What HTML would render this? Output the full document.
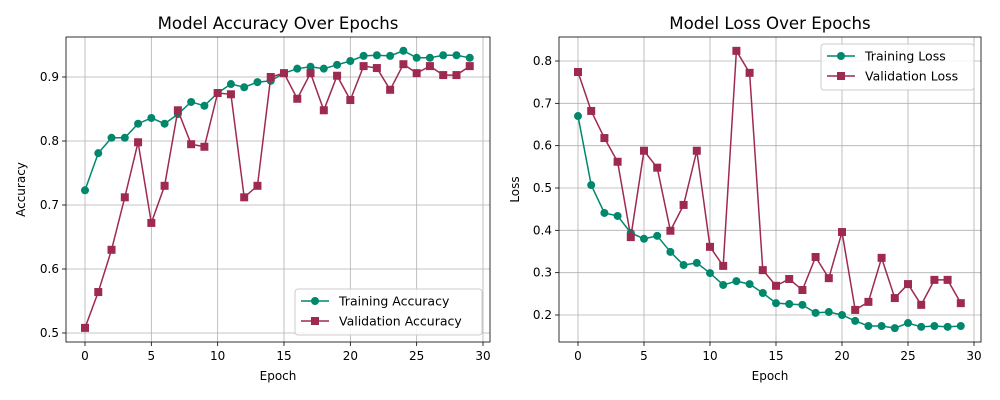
<!DOCTYPE html>
<html><head><meta charset="utf-8"><style>
body{margin:0;background:#fff;}
svg{display:block;font-family:"DejaVu Sans","Liberation Sans",sans-serif;}
</style></head><body>
<svg id="c" width="1000" height="400"></svg>
<script>
const epochs=[...Array(30).keys()];
const trainAcc=[0.723,0.781,0.805,0.805,0.827,0.836,0.827,0.842,0.861,0.855,0.875,0.889,0.884,0.892,0.894,0.906,0.913,0.916,0.913,0.919,0.925,0.933,0.934,0.933,0.941,0.930,0.930,0.934,0.934,0.930];
const valAcc=[0.508,0.564,0.630,0.712,0.798,0.672,0.730,0.848,0.795,0.791,0.875,0.873,0.712,0.730,0.900,0.906,0.866,0.906,0.848,0.902,0.864,0.917,0.914,0.880,0.920,0.906,0.917,0.903,0.903,0.917];
const trainLoss=[0.670,0.507,0.441,0.434,0.394,0.380,0.387,0.349,0.318,0.323,0.299,0.271,0.280,0.273,0.252,0.228,0.226,0.224,0.205,0.207,0.200,0.186,0.174,0.174,0.169,0.181,0.172,0.174,0.172,0.174];
const valLoss=[0.774,0.682,0.618,0.562,0.384,0.588,0.548,0.399,0.460,0.588,0.361,0.316,0.824,0.772,0.306,0.269,0.285,0.259,0.337,0.287,0.396,0.212,0.231,0.335,0.240,0.273,0.224,0.283,0.283,0.228];
const xTicks=[0,5,10,15,20,25,30];
const accTicks=[0.5,0.6,0.7,0.8,0.9];
const lossTicks=[0.2,0.3,0.4,0.5,0.6,0.7,0.8];
const G='#00876c',R='#9e2a4f';
const svg=document.getElementById('c');
const NS='http://www.w3.org/2000/svg';
function mk(t,a,p){const e=document.createElementNS(NS,t);for(const k in a)e.setAttribute(k,a[k]);(p||svg).appendChild(e);return e;}
function panel(o){
  const g=mk('g',{});
  
  
  const X=v=>o.x0+(v-o.xmin)*(o.x1-o.x0)/(o.xmax-o.xmin);
  const Y=v=>o.y0-(v-o.ymin)*(o.y0-o.y1)/(o.ymax-o.ymin);
  xTicks.forEach(t=>{const x=X(t);
    mk('line',{x1:x,x2:x,y1:o.top,y2:o.bot,stroke:'#b0b0b0','stroke-width':0.8},g);
    mk('line',{x1:x,x2:x,y1:o.bot,y2:o.bot+4,stroke:'#000','stroke-width':0.8},g);
    const tx=mk('text',{x:x,y:o.bot+18,'text-anchor':'middle','font-size':12},g);tx.textContent=t;
    });
  o.yt.forEach(t=>{const y=Y(t);
    mk('line',{x1:o.left,x2:o.right,y1:y,y2:y,stroke:'#b0b0b0','stroke-width':0.8},g);
    mk('line',{x1:o.left-4,x2:o.left,y1:y,y2:y,stroke:'#000','stroke-width':0.8},g);
    const tx=mk('text',{x:o.left-7,y:y+4,'text-anchor':'end','font-size':12},g);tx.textContent=t.toFixed(1);
    });
  mk('rect',{x:o.left,y:o.top,width:o.right-o.left,height:o.bot-o.top,fill:'none',stroke:'#000','stroke-width':0.8},g);
  const t=mk('text',{x:(o.left+o.right)/2,y:o.top-8,'text-anchor':'middle','font-size':16.6},g);t.textContent=o.title;
  
  const xl=mk('text',{x:(o.left+o.right)/2,y:o.bot+38,'text-anchor':'middle','font-size':12},g);xl.textContent='Epoch';
  
  const cy=(o.top+o.bot)/2;
  const yl=mk('text',{x:o.ylx,y:cy,'text-anchor':'middle','font-size':12,transform:`rotate(-90 ${o.ylx} ${cy})`},g);yl.textContent=o.ylabel;
  
  o.series.forEach(s=>{
    const pl=mk('polyline',{points:s.d.map((v,i)=>X(epochs[i])+','+Y(v)).join(' '),fill:'none',stroke:s.c,'stroke-width':1.5},g);
    
    s.d.forEach((v,i)=>{const x=X(epochs[i]),y=Y(v);
      const m=s.sq?mk('rect',{x:x-4,y:y-4,width:8,height:8,fill:s.c},g):mk('circle',{cx:x,cy:y,r:4,fill:s.c},g);
      });
  });
  const L=o.leg;
  const lg=mk('g',{},g);
  mk('rect',{x:L.x,y:L.y,width:L.w,height:46,rx:3,fill:'#fff','fill-opacity':0.85,stroke:'#ccc'},lg);
  o.series.forEach((s,k)=>{const y=L.y+12+k*20;
    mk('line',{x1:L.x+6,x2:L.x+34,y1:y,y2:y,stroke:s.c,'stroke-width':1.5},lg);
    if(s.sq)mk('rect',{x:L.x+16,y:y-4,width:8,height:8,fill:s.c},lg);else mk('circle',{cx:L.x+20,cy:y,r:4,fill:s.c},lg);
    const tx=mk('text',{x:L.x+44,y:y+4.5,'font-size':12.5},lg);tx.textContent=s.label;
    });
}
panel({name:'accuracy-chart',left:66,right:490,top:37,bot:342,x0:85,x1:483,xmin:0,xmax:30,y0:333,y1:77,ymin:0.5,ymax:0.9,yt:accTicks,
  title:'Model Accuracy Over Epochs',ylabel:'Accuracy',ylx:25,leg:{x:295,y:289,w:187},
  series:[{d:trainAcc,c:G,n:'training-accuracy',label:'Training Accuracy'},{d:valAcc,c:R,sq:1,n:'validation-accuracy',label:'Validation Accuracy'}]});
panel({name:'loss-chart',left:559,right:981,top:37,bot:342,x0:578,x1:974,xmin:0,xmax:30,y0:315,y1:61,ymin:0.2,ymax:0.8,yt:lossTicks,
  title:'Model Loss Over Epochs',ylabel:'Loss',ylx:519,leg:{x:821,y:44,w:153},
  series:[{d:trainLoss,c:G,n:'training-loss',label:'Training Loss'},{d:valLoss,c:R,sq:1,n:'validation-loss',label:'Validation Loss'}]});
</script>
</body></html>
